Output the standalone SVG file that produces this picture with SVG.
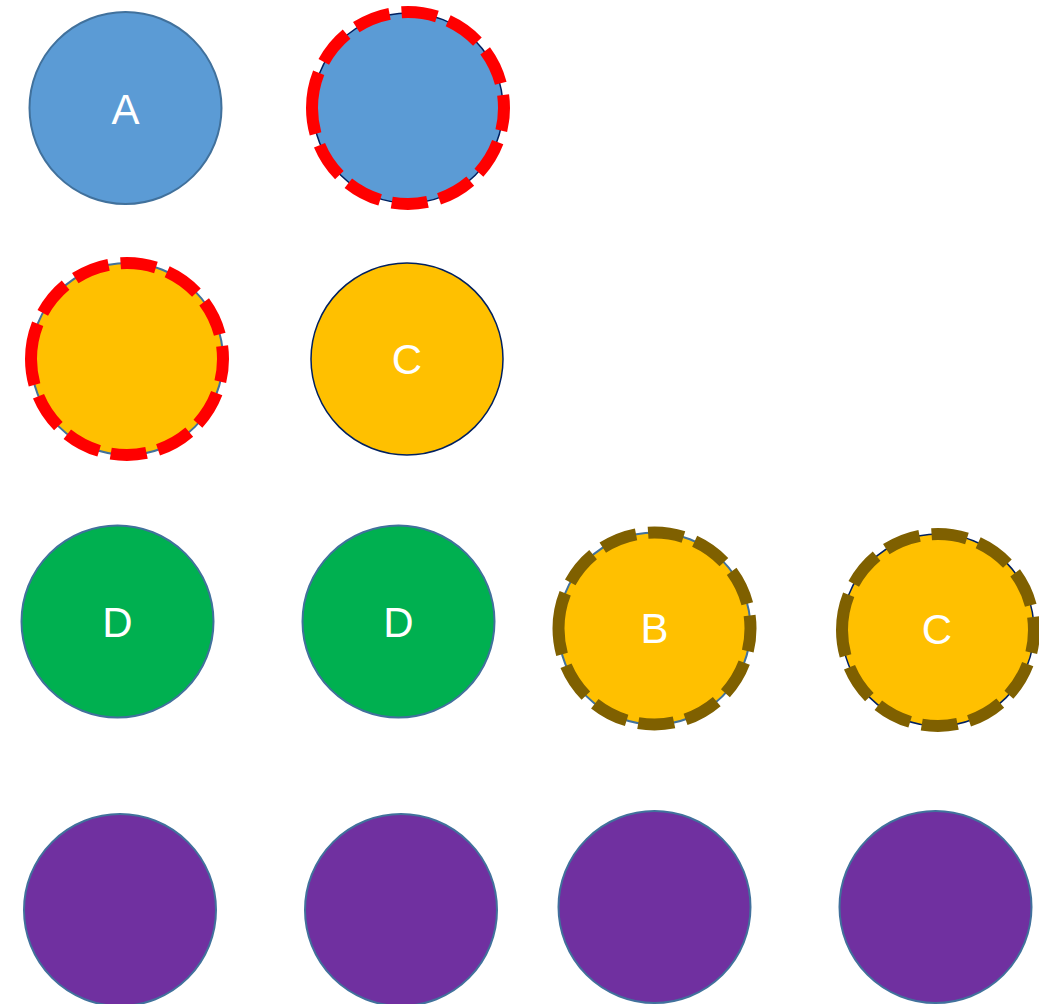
<svg xmlns="http://www.w3.org/2000/svg" width="1039" height="1004" viewBox="0 0 1039 1004">
  <style>
    .blue { fill: #5B9BD5; }
    .orange { fill: #FFC000; }
    .green { fill: #00B050; }
    .purple { fill: #7030A0; }
    .edge { stroke: #41719C; stroke-width: 2; }
    .navy { stroke: #002060; stroke-width: 1.5; }
    /* dashed rings start at 9 o'clock (rotated 180) and run clockwise */
    .red-dash { fill: none; stroke: #FF0000; stroke-width: 12; stroke-dasharray: 36 12; }
    .brown-dash { fill: none; stroke: #7F6000; stroke-width: 12; stroke-dasharray: 36 12; }
    .label { fill: #FFFFFF; font-family: "Liberation Sans", Arial, sans-serif; font-size: 42px; text-anchor: middle; dominant-baseline: central; }
  </style>
  <rect width="1039" height="1004" fill="#FFFFFF"/>

  <!-- row 1 -->
  <g id="node-a">
    <circle class="blue edge" cx="125.5" cy="108" r="96"/>
    <text class="label" x="125.5" y="109">A</text>
  </g>
  <g id="node-blue-dashed">
    <circle class="blue navy" cx="408" cy="108" r="95"/>
    <circle class="red-dash" cx="408" cy="108" r="96" transform="rotate(180 408 108)"/>
  </g>

  <!-- row 2 -->
  <g id="node-orange-dashed">
    <circle class="orange edge" cx="127" cy="359" r="96"/>
    <circle class="red-dash" cx="127" cy="359" r="96" transform="rotate(180 127 359)"/>
  </g>
  <g id="node-c1">
    <circle class="orange navy" cx="407" cy="359" r="96"/>
    <text class="label" x="407" y="359">C</text>
  </g>

  <!-- row 3 -->
  <g id="node-d1">
    <circle class="green edge" cx="117.5" cy="621.5" r="96"/>
    <text class="label" x="117.5" y="622">D</text>
  </g>
  <g id="node-d2">
    <circle class="green edge" cx="398.5" cy="621.5" r="96"/>
    <text class="label" x="398.5" y="622">D</text>
  </g>
  <g id="node-b">
    <circle class="orange edge" cx="654.5" cy="628.5" r="96"/>
    <circle class="brown-dash" cx="654.5" cy="628.5" r="96" transform="rotate(180 654.5 628.5)"/>
    <text class="label" x="654.5" y="628">B</text>
  </g>
  <g id="node-c2">
    <circle class="orange navy" cx="938" cy="630" r="96"/>
    <circle class="brown-dash" cx="938" cy="630" r="96" transform="rotate(180 938 630)"/>
    <text class="label" x="937" y="629">C</text>
  </g>

  <!-- row 4 -->
  <g id="node-p1"><circle class="purple edge" cx="120" cy="910" r="96"/></g>
  <g id="node-p2"><circle class="purple edge" cx="401" cy="910" r="96"/></g>
  <g id="node-p3"><circle class="purple edge" cx="654.5" cy="907" r="96"/></g>
  <g id="node-p4"><circle class="purple edge" cx="935.5" cy="907" r="96"/></g>

  <g id="connectors"></g>
</svg>
